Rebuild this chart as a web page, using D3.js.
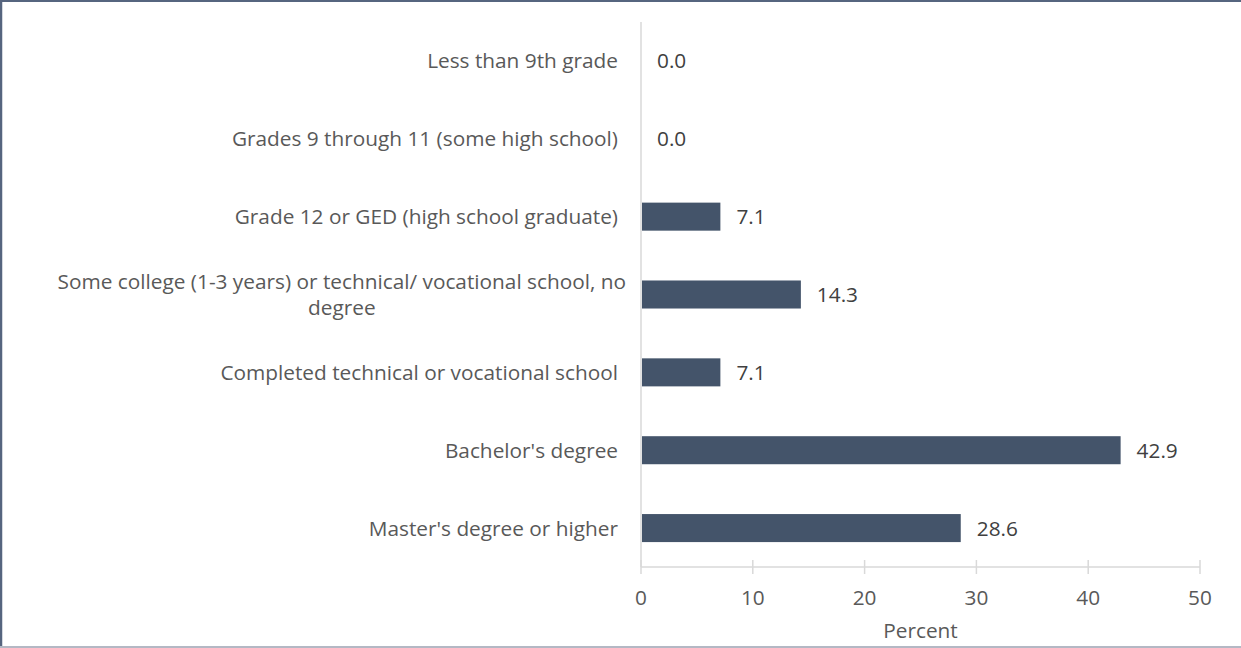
<!DOCTYPE html>
<html><head><meta charset="utf-8">
<script src="https://cdn.jsdelivr.net/npm/d3@7"></script>
<style>body{margin:0;background:#fff}svg{display:block}text{font-family:"Open Sans",sans-serif}</style>
</head><body><svg id="c" width="1241" height="648"></svg>
<script>
const categories = ["Less than 9th grade","Grades 9 through 11 (some high school)","Grade 12 or GED (high school graduate)","Some college (1-3 years) or technical/ vocational school, no degree","Completed technical or vocational school","Bachelor's degree","Master's degree or higher"];
const labelLines = [["Less than 9th grade"],["Grades 9 through 11 (some high school)"],["Grade 12 or GED (high school graduate)"],["Some college (1-3 years) or technical/ vocational school, no","degree"],["Completed technical or vocational school"],["Bachelor's degree"],["Master's degree or higher"]];
const values = [0.0,0.0,7.1,14.3,7.1,42.9,28.6];
const ticks = [0,10,20,30,40,50];
const axisTitle = "Percent";

const svg = d3.select("#c");
const W=1241,H=648;
const FS = 20.8;
// border
svg.append("line").attr("x1",0).attr("x2",W).attr("y1",1).attr("y2",1).attr("stroke","#56657f").attr("stroke-width",2);
svg.append("line").attr("x1",1).attr("x2",1).attr("y1",0).attr("y2",H).attr("stroke","#56657f").attr("stroke-width",2.5);
svg.append("line").attr("x1",0).attr("x2",W).attr("y1",H-1).attr("y2",H-1).attr("stroke","#b4b8c4").attr("stroke-width",2);

const x = d3.scaleLinear().domain([0,50]).range([641,1200]);
const y = d3.scaleBand().domain(categories).range([22,567]).paddingInner(0.64).paddingOuter(0.32);

// x axis
const gx = svg.append("g").attr("transform","translate(0,567)");
gx.append("line").attr("x1",x(0)).attr("x2",x(50)).attr("stroke","#d9d9d9").attr("stroke-width",1.5);
gx.selectAll(".t").data(ticks).join("line").attr("x1",d=>x(d)).attr("x2",d=>x(d)).attr("y1",-7).attr("y2",7).attr("stroke","#d9d9d9").attr("stroke-width",1.5);
gx.selectAll(".tl").data(ticks).join("text").attr("x",d=>x(d)).attr("y",38).attr("text-anchor","middle").attr("font-size",FS).attr("fill","#595959").text(d=>d);
svg.append("text").attr("x",(x(0)+x(50))/2).attr("y",638).attr("text-anchor","middle").attr("font-size",FS).attr("fill","#595959").text(axisTitle);

// y axis line
svg.append("line").attr("x1",x(0)).attr("x2",x(0)).attr("y1",22).attr("y2",567).attr("stroke","#d9d9d9").attr("stroke-width",1.5);

// bars
svg.selectAll(".bar").data(values).join("rect")
  .attr("x",x(0)+1).attr("y",(d,i)=>y(categories[i]))
  .attr("width",d=>Math.max(0,x(d)-x(0)-1)).attr("height",y.bandwidth())
  .attr("fill","#44546a");
svg.selectAll(".vl").data(values).join("text")
  .attr("x",d=>x(d)+16).attr("y",(d,i)=>y(categories[i])+y.bandwidth()/2+7.5)
  .attr("font-size",FS).attr("fill","#404040").text(d=>d.toFixed(1));

// category labels
labelLines.forEach((lines,i)=>{
  const cy = y(categories[i])+y.bandwidth()/2;
  const lh = 25.5;
  if(lines.length===1){
    svg.append("text").attr("x",618).attr("y",cy+7.5).attr("text-anchor","end").attr("font-size",FS).attr("fill","#595959").text(lines[0]);
  } else {
    const tmp = svg.append("text").attr("font-size",FS).text(lines[0]);
    const w = tmp.node().getComputedTextLength(); tmp.remove();
    const cx = 626 - w/2;
    lines.forEach((l,j)=>{
      svg.append("text").attr("x",cx).attr("y",cy+7.5+(j-(lines.length-1)/2)*lh).attr("text-anchor","middle").attr("font-size",FS).attr("fill","#595959").text(l);
    });
  }
});
</script></body></html>
